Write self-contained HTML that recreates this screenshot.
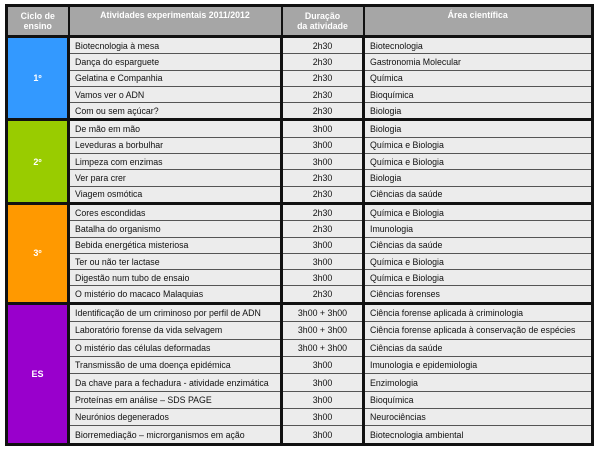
<!DOCTYPE html>
<html><head><meta charset="utf-8"><style>
body{margin:0;background:#fff;width:600px;height:452px;overflow:hidden;font-family:"Liberation Sans",sans-serif;}
table{position:absolute;left:5px;top:4px;border-collapse:collapse;border:3px solid #111;table-layout:fixed;}
td,th{font-size:8.8px;padding:0 0 0 5px;border:1px solid #555;background:#ececec;color:#111;white-space:nowrap;overflow:hidden;}
th{background:#a6a6a6;color:#fff;font-weight:bold;text-align:center;height:25px;line-height:10px;padding:0;border:2px solid #111;border-bottom:3px solid #111;}
td.c{text-align:center;padding:0;}
td.g{color:#fff;font-weight:bold;text-align:center;padding:0;border:3px solid #111;font-size:9px;}
td.d{border-left:3px solid #111;border-right:3px solid #111;}
tr.a td{height:15.3px;}
tr.b td{height:16.4px;}
tr.e td{border-bottom:3px solid #111;}
</style></head><body>
<table>
<colgroup><col style="width:62px"><col style="width:213px"><col style="width:82px"><col style="width:229px"></colgroup>
<tr><th>Ciclo de<br>ensino</th><th style="vertical-align:top;padding-top:3px">Atividades experimentais 2011/2012</th><th>Duração<br>da atividade</th><th style="vertical-align:top;padding-top:3px">Área científica</th></tr>
<tr class="a"><td class="g" rowspan="5" style="background:#3399ff">1º</td><td>Biotecnologia à mesa</td><td class="c d">2h30</td><td>Biotecnologia</td></tr>
<tr class="a"><td>Dança do esparguete</td><td class="c d">2h30</td><td>Gastronomia Molecular</td></tr>
<tr class="a"><td>Gelatina e Companhia</td><td class="c d">2h30</td><td>Química</td></tr>
<tr class="a"><td>Vamos ver o ADN</td><td class="c d">2h30</td><td>Bioquímica</td></tr>
<tr class="a e"><td>Com ou sem açúcar?</td><td class="c d">2h30</td><td>Biologia</td></tr>
<tr class="a"><td class="g" rowspan="5" style="background:#99cc00">2º</td><td>De mão em mão</td><td class="c d">3h00</td><td>Biologia</td></tr>
<tr class="a"><td>Leveduras a borbulhar</td><td class="c d">3h00</td><td>Química e Biologia</td></tr>
<tr class="a"><td>Limpeza com enzimas</td><td class="c d">3h00</td><td>Química e Biologia</td></tr>
<tr class="a"><td>Ver para crer</td><td class="c d">2h30</td><td>Biologia</td></tr>
<tr class="a e"><td>Viagem osmótica</td><td class="c d">2h30</td><td>Ciências da saúde</td></tr>
<tr class="a"><td class="g" rowspan="6" style="background:#ff9900">3º</td><td>Cores escondidas</td><td class="c d">2h30</td><td>Química e Biologia</td></tr>
<tr class="a"><td>Batalha do organismo</td><td class="c d">2h30</td><td>Imunologia</td></tr>
<tr class="a"><td>Bebida energética misteriosa</td><td class="c d">3h00</td><td>Ciências da saúde</td></tr>
<tr class="a"><td>Ter ou não ter lactase</td><td class="c d">3h00</td><td>Química e Biologia</td></tr>
<tr class="a"><td>Digestão num tubo de ensaio</td><td class="c d">3h00</td><td>Química e Biologia</td></tr>
<tr class="a e"><td>O mistério do macaco Malaquias</td><td class="c d">2h30</td><td>Ciências forenses</td></tr>
<tr class="b"><td class="g" rowspan="9" style="background:#9900cc">ES</td><td>Identificação de um criminoso por perfil de ADN</td><td class="c d">3h00 + 3h00</td><td>Ciência forense aplicada à criminologia</td></tr>
<tr class="b"><td>Laboratório forense da vida selvagem</td><td class="c d">3h00 + 3h00</td><td>Ciência forense aplicada à conservação de espécies</td></tr>
<tr class="b"><td>O mistério das células deformadas</td><td class="c d">3h00 + 3h00</td><td>Ciências da saúde</td></tr>
<tr class="b"><td>Transmissão de uma doença epidémica</td><td class="c d">3h00</td><td>Imunologia e epidemiologia</td></tr>
<tr class="b"><td>Da chave para a fechadura - atividade enzimática</td><td class="c d">3h00</td><td>Enzimologia</td></tr>
<tr class="b"><td>Proteínas em análise – SDS PAGE</td><td class="c d">3h00</td><td>Bioquímica</td></tr>
<tr class="b"><td>Neurónios degenerados</td><td class="c d">3h00</td><td>Neurociências</td></tr>
<tr class="b"><td>Biorremediação – microrganismos em ação</td><td class="c d">3h00</td><td>Biotecnologia ambiental</td></tr>
</table>
</body></html>
